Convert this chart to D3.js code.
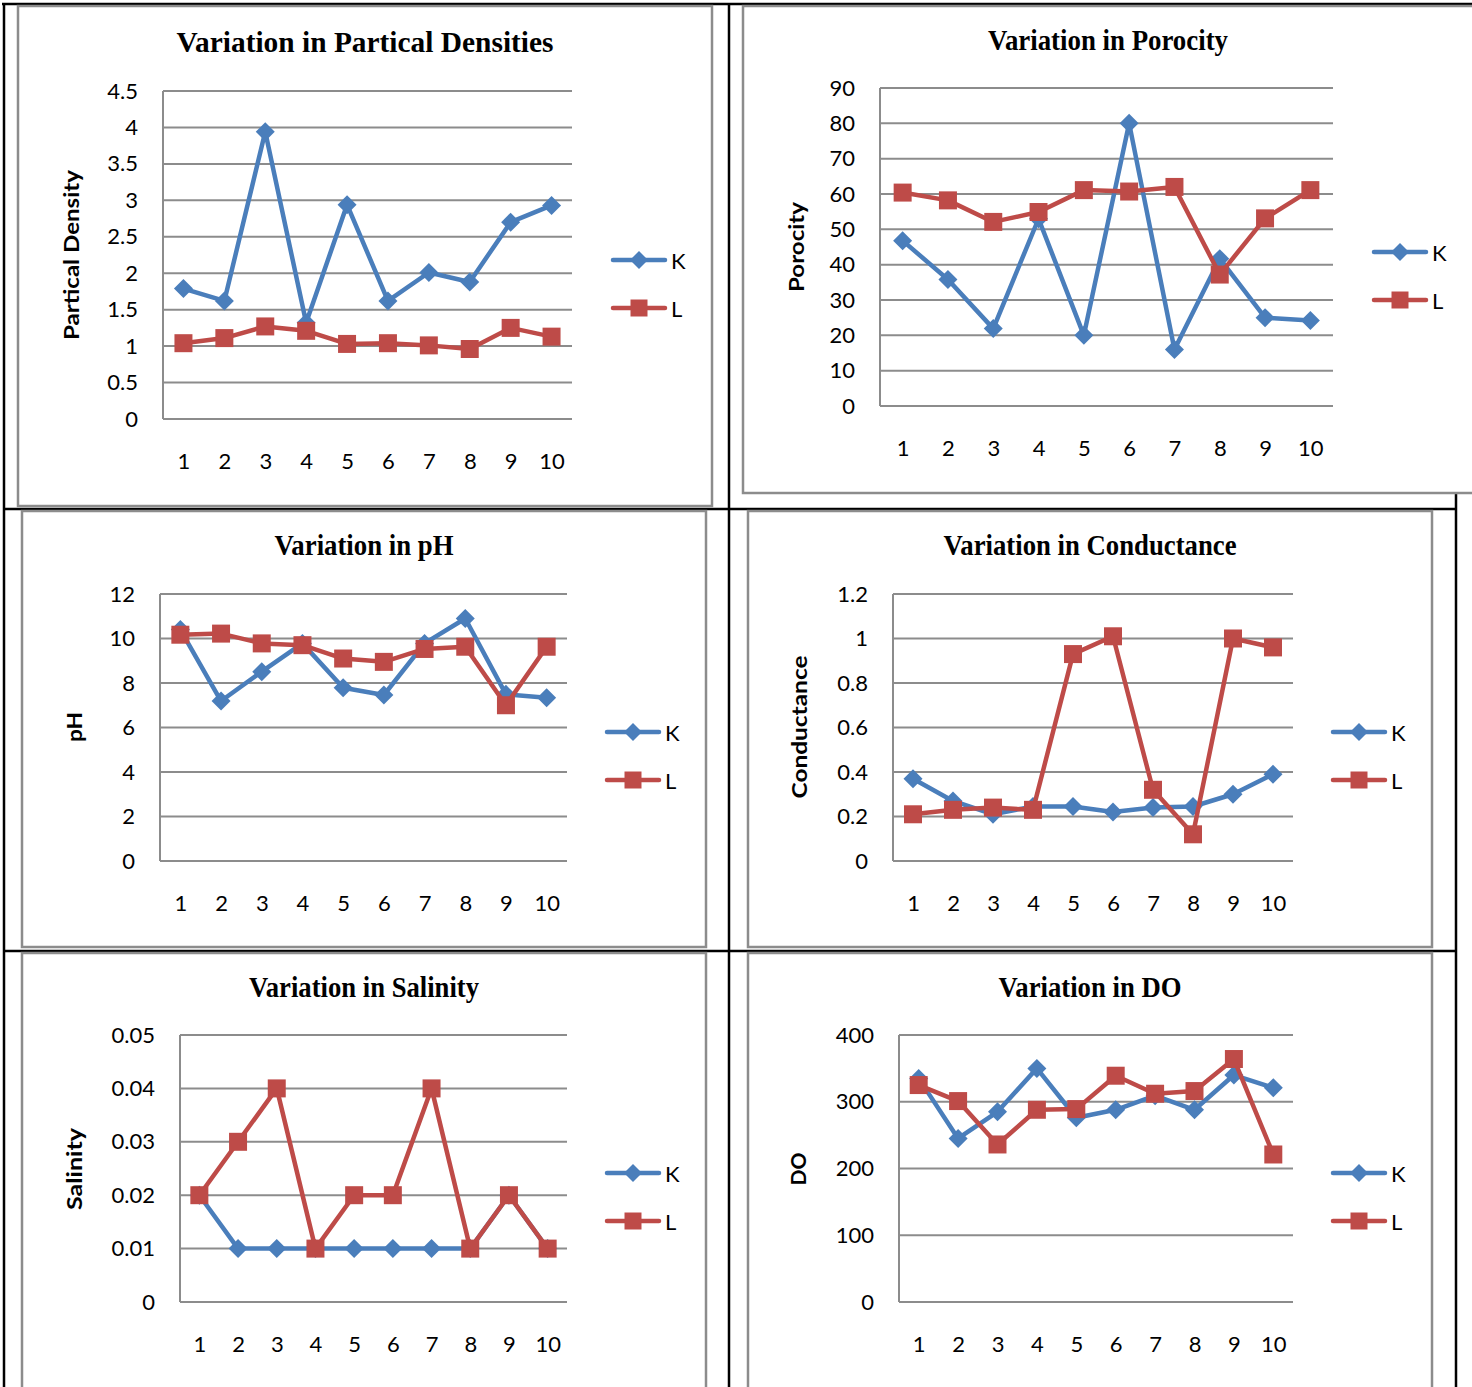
<!DOCTYPE html>
<html><head><meta charset="utf-8">
<script src="https://cdn.jsdelivr.net/npm/d3@7"></script>
<style>html,body{margin:0;padding:0;background:#fff;}svg{display:block;}</style>
</head><body>
<svg id="c" width="1472" height="1387"></svg>
<script>
const categories = ["1","2","3","4","5","6","7","8","9","10"];
const seriesNames = ["K","L"];

const densityK = [1.79,1.62,3.94,1.32,2.94,1.62,2.01,1.88,2.70,2.93];
const densityL = [1.04,1.11,1.27,1.21,1.03,1.04,1.01,0.96,1.25,1.13];
const densityTicks = [0,0.5,1,1.5,2,2.5,3,3.5,4,4.5];

const porosityK = [46.8,35.8,21.9,53.0,20.0,80.0,16.0,41.7,25.0,24.2];
const porosityL = [60.4,58.2,52.1,54.9,61.1,60.7,62.0,37.2,53.1,61.1];
const porosityTicks = [0,10,20,30,40,50,60,70,80,90];

const phK = [10.4,7.19,8.51,9.78,7.79,7.46,9.78,10.9,7.49,7.34];
const phL = [10.17,10.22,9.78,9.70,9.10,8.95,9.53,9.63,7.0,9.63];
const phTicks = [0,2,4,6,8,10,12];

const conductanceK = [0.37,0.27,0.21,0.245,0.245,0.22,0.24,0.245,0.30,0.39];
const conductanceL = [0.21,0.23,0.24,0.23,0.93,1.01,0.32,0.12,1.0,0.96];
const conductanceTicks = [0,0.2,0.4,0.6,0.8,1,1.2];

const salinityK = [0.02,0.01,0.01,0.01,0.01,0.01,0.01,0.01,0.02,0.01];
const salinityL = [0.02,0.03,0.04,0.01,0.02,0.02,0.04,0.01,0.02,0.01];
const salinityTicks = [0,0.01,0.02,0.03,0.04,0.05];

const doK = [335,245,285,350,276,288,309,288,340,321];
const doL = [325,301,236,288,289,339,312,316,364,221];
const doTicks = [0,100,200,300,400];

const titles = ["Variation in Partical Densities","Variation in Porocity","Variation in pH",
                "Variation in Conductance","Variation in Salinity","Variation in DO"];
const yTitles = ["Partical Density","Porocity","pH","Conductance","Salinity","DO"];

const BLUE = "#4A7EBB", RED = "#BE4B48", GRID = "#8C8C8C";
const svg = d3.select("#c");

// table lines
const tbl = svg.append("g").attr("stroke","#000").attr("stroke-width",2.5);
tbl.append("line").attr("x1",2).attr("x2",1472).attr("y1",4).attr("y2",4);
tbl.append("line").attr("x1",4).attr("x2",4).attr("y1",3).attr("y2",1387);
tbl.append("line").attr("x1",729).attr("x2",729).attr("y1",3).attr("y2",1387);
tbl.append("line").attr("x1",3).attr("x2",1457).attr("y1",509).attr("y2",509);
tbl.append("line").attr("x1",3).attr("x2",1457).attr("y1",951).attr("y2",951);
tbl.append("line").attr("x1",1456).attr("x2",1456).attr("y1",493).attr("y2",1387);

const charts = [
 {frame:[18,6,712,506], title:0, tx:365, ty:52, tw:377, plot:[163,572,91,419], ticks:densityTicks, K:densityK, L:densityL,
  yt:70, ytc:255, ytw:170, leg:[613,260], fmt:d=>d},
 {frame:[743,6,1490,493], title:1, tx:1108, ty:50, tw:240, plot:[880,1333,88,406], ticks:porosityTicks, K:porosityK, L:porosityL,
  yt:795, ytc:247, ytw:90, leg:[1374,252], fmt:d=>d},
 {frame:[22,511,706,947], title:2, tx:364, ty:555, tw:179, plot:[160,567,594,861], ticks:phTicks, K:phK, L:phL,
  yt:73, ytc:727, ytw:30, leg:[607,732], fmt:d=>d},
 {frame:[748,511,1432,947], title:3, tx:1090, ty:555, tw:293, plot:[893,1293,594,861], ticks:conductanceTicks, K:conductanceK, L:conductanceL,
  yt:798, ytc:727, ytw:143, leg:[1333,732], fmt:d=>d},
 {frame:[22,953,706,1400], title:4, tx:364, ty:997, tw:230, plot:[180,567,1035,1302], ticks:salinityTicks, K:salinityK, L:salinityL,
  yt:73, ytc:1169, ytw:82, leg:[607,1173], fmt:d=>d},
 {frame:[748,953,1432,1400], title:5, tx:1090, ty:997, tw:183, plot:[899,1293,1035,1302], ticks:doTicks, K:doK, L:doL,
  yt:797, ytc:1169, ytw:33, leg:[1333,1173], fmt:d=>d}
];

function diamondPath(r){ return `M0,${-r}L${r},0L0,${r}L${-r},0Z`; }
function squarePath(s){ const h=s/2; return `M${-h},${-h}H${h}V${h}H${-h}Z`; }

charts.forEach(c => {
  const g = svg.append("g");
  const [fx0,fy0,fx1,fy1] = c.frame;
  g.append("rect").attr("x",fx0).attr("y",fy0).attr("width",fx1-fx0).attr("height",fy1-fy0)
    .attr("fill","#fff").attr("stroke",GRID).attr("stroke-width",2.5);

  g.append("text").attr("x",c.tx).attr("y",c.ty).attr("text-anchor","middle")
    .attr("font-family","'Liberation Serif','Times New Roman',serif").attr("font-weight","bold")
    .attr("font-size",30).attr("textLength",c.tw).attr("lengthAdjust","spacingAndGlyphs")
    .attr("fill","#000").text(titles[c.title]);

  const [x0,x1,y0,y1] = c.plot;
  const x = d3.scalePoint().domain(categories).range([x0,x1]).padding(0.5);
  const y = d3.scaleLinear().domain([0,d3.max(c.ticks)]).range([y1,y0]);

  g.append("g").selectAll("line").data(c.ticks).join("line")
    .attr("x1",x0).attr("x2",x1).attr("y1",d=>y(d)).attr("y2",d=>y(d))
    .attr("stroke",GRID).attr("stroke-width",2);
  g.append("line").attr("x1",x0).attr("x2",x0).attr("y1",y(d3.max(c.ticks))).attr("y2",y(0))
    .attr("stroke",GRID).attr("stroke-width",2);

  const yAxis = d3.axisLeft(y).tickValues(c.ticks).tickSize(0).tickPadding(25).tickFormat(c.fmt);
  const ya = g.append("g").attr("transform",`translate(${x0},0)`).call(yAxis);
  ya.select(".domain").remove();
  ya.selectAll("text").attr("font-family","Lato, 'Open Sans', sans-serif").attr("font-size",22).attr("fill","#000");

  const xAxis = d3.axisBottom(x).tickSize(0).tickPadding(34);
  const xa = g.append("g").attr("transform",`translate(0,${y1})`).call(xAxis);
  xa.select(".domain").remove();
  xa.selectAll("text").attr("font-family","Lato, 'Open Sans', sans-serif").attr("font-size",22).attr("fill","#000");

  g.append("text").attr("transform",`translate(${c.yt},${c.ytc}) rotate(-90)`)
    .attr("text-anchor","middle").attr("dominant-baseline","central")
    .attr("font-family","Lato, 'Open Sans', sans-serif").attr("font-weight","bold").attr("font-size",21)
    .attr("textLength",c.ytw).attr("lengthAdjust","spacingAndGlyphs").attr("fill","#000").text(yTitles[c.title]);

  const line = d3.line().x((d,i)=>x(categories[i])).y(d=>y(d));
  const series = [{name:"K",vals:c.K,color:BLUE,shape:"d"},{name:"L",vals:c.L,color:RED,shape:"s"}];
  series.forEach(s => {
    g.append("path").datum(s.vals).attr("d",line).attr("fill","none")
      .attr("stroke",s.color).attr("stroke-width",4.5).attr("stroke-linejoin","round");
    g.append("g").selectAll("path").data(s.vals).join("path")
      .attr("transform",(d,i)=>`translate(${x(categories[i])},${y(d)})`)
      .attr("d", s.shape==="d" ? diamondPath(9.5) : squarePath(18))
      .attr("fill",s.color);
  });

  const [lx,ly] = c.leg;
  series.forEach((s,i) => {
    const yy = ly + i*48;
    g.append("line").attr("x1",lx).attr("x2",lx+52).attr("y1",yy).attr("y2",yy)
      .attr("stroke",s.color).attr("stroke-width",4.5).attr("stroke-linecap","round");
    g.append("path").attr("transform",`translate(${lx+26},${yy})`)
      .attr("d", s.shape==="d" ? diamondPath(9) : squarePath(17)).attr("fill",s.color);
    g.append("text").attr("x",lx+58).attr("y",yy).attr("dominant-baseline","central")
      .attr("font-family","Lato, 'Open Sans', sans-serif").attr("font-size",22).attr("fill","#000").text(seriesNames[i]);
  });
});
</script>
</body></html>
